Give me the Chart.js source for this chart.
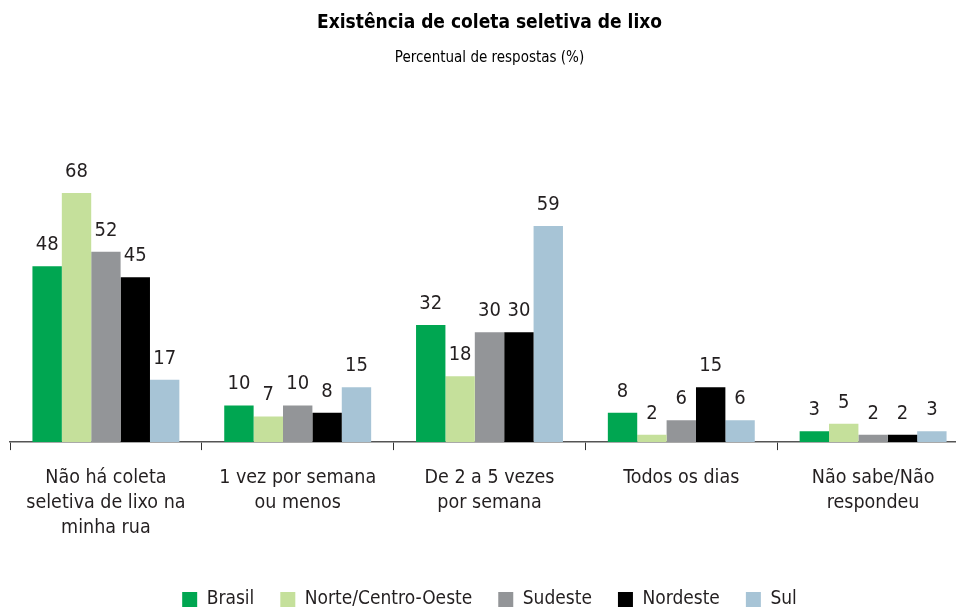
<!DOCTYPE html>
<html>
<head>
<meta charset="utf-8">
<script src="https://cdn.jsdelivr.net/npm/chart.js@4/dist/chart.umd.min.js"></script>
<style>
  body { margin: 0; overflow: hidden; background: #fff; }
  canvas { display: block; }
</style>
</head>
<body>
<canvas id="chart" width="969" height="607"></canvas>
<script>
const categories = [
  ['Não há coleta', 'seletiva de lixo na', 'minha rua'],
  ['1 vez por semana', 'ou menos'],
  ['De 2 a 5 vezes', 'por semana'],
  ['Todos os dias'],
  ['Não sabe/Não', 'respondeu']
];
const brasil = [48, 10, 32, 8, 3];
const norteCentroOeste = [68, 7, 18, 2, 5];
const sudeste = [52, 10, 30, 6, 2];
const nordeste = [45, 8, 30, 15, 2];
const sul = [17, 15, 59, 6, 3];

const fontFamily = "'Liberation Sans Narrow', 'DejaVu Sans Condensed', sans-serif";
const textColor = '#231f20';

// draws the value above each bar
const valueLabels = {
  id: 'valueLabels',
  afterDatasetsDraw(chart) {
    const ctx = chart.ctx;
    ctx.save();
    ctx.font = '20px ' + fontFamily;
    ctx.fillStyle = textColor;
    ctx.textAlign = 'center';
    ctx.textBaseline = 'alphabetic';
    chart.data.datasets.forEach((ds, i) => {
      chart.getDatasetMeta(i).data.forEach((bar, j) => {
        ctx.fillText(ds.data[j], bar.x, bar.y - 16);
      });
    });
    ctx.restore();
  }
};

const ctx = document.getElementById('chart').getContext('2d');
const chart = new Chart(ctx, {
  type: 'bar',
  data: {
    labels: categories,
    datasets: [
      { label: 'Brasil', data: brasil, backgroundColor: '#00a651' },
      { label: 'Norte/Centro-Oeste', data: norteCentroOeste, backgroundColor: '#c5e09b' },
      { label: 'Sudeste', data: sudeste, backgroundColor: '#939598' },
      { label: 'Nordeste', data: nordeste, backgroundColor: '#000000' },
      { label: 'Sul', data: sul, backgroundColor: '#a7c4d6' }
    ]
  },
  options: {
    responsive: false,
    animation: false,
    devicePixelRatio: 1,
    datasets: {
      bar: { barPercentage: 1, categoryPercentage: 0.766 }
    },
    layout: { padding: { left: 10, right: 0, top: 0, bottom: -12 } },
    plugins: {
      title: {
        display: true,
        text: 'Existência de coleta seletiva de lixo',
        color: '#000',
        font: { family: fontFamily, size: 19, weight: 'bold' },
        padding: { top: 12, bottom: 14 }
      },
      subtitle: {
        display: true,
        text: 'Percentual de respostas (%)',
        color: '#000',
        font: { family: fontFamily, size: 15 },
        padding: { bottom: 9 }
      },
      legend: {
        position: 'bottom',
        labels: {
          boxWidth: 15,
          boxHeight: 15,
          padding: 26,
          color: textColor,
          font: { family: fontFamily, size: 19 }
        }
      },
      tooltip: { enabled: false }
    },
    scales: {
      x: {
        afterFit(scale) {
          // extra room between the category labels and the legend
          scale.height += 9;
        },
        grid: {
          offset: true,
          drawOnChartArea: false,
          drawTicks: true,
          tickLength: 8,
          color: '#333'
        },
        border: { color: '#555', width: 1.5 },
        ticks: {
          color: textColor,
          padding: 15,
          maxRotation: 0,
          autoSkip: false,
          font: { family: fontFamily, size: 19.5, lineHeight: 1.28 }
        }
      },
      y: {
        display: false,
        min: 0,
        max: 100
      }
    }
  },
  plugins: [valueLabels]
});
</script>
</body>
</html>
